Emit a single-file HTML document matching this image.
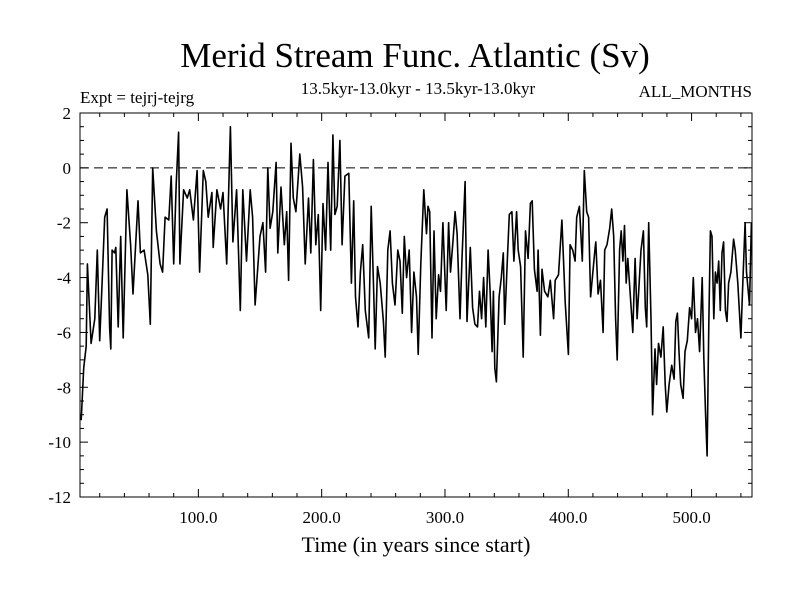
<!DOCTYPE html>
<html><head><meta charset="utf-8"><style>
body{margin:0;background:#fff;}
svg text{font-family:"Liberation Serif",serif;fill:#000;}
</style></head><body>
<svg id="chart" width="800" height="600">
<text x="415" y="67" font-size="35" text-anchor="middle">Merid Stream Func. Atlantic (Sv)</text>
<text x="80" y="103" font-size="17">Expt = tejrj-tejrg</text>
<text x="418" y="94" font-size="17" text-anchor="middle">13.5kyr-13.0kyr - 13.5kyr-13.0kyr</text>
<text x="752" y="97" font-size="17" text-anchor="end">ALL_MONTHS</text>
<text x="416" y="552" font-size="22" text-anchor="middle">Time (in years since start)</text>
<g id="axes"></g>
<path id="series" fill="none" stroke="#000" stroke-width="1.6" stroke-linejoin="round"/>
</svg>
<script>
const years=[5,7,9,10,13,16,18,20,22,24,26,28,29,30,32,33,35,37,39,42,45,47,51,53,56,59,61,63,66,69,71,73,76,78,80,82,84,85,88,91,93,96,99,101,104,106,108,111,112,115,118,120,123,126,128,131,134,136,139,142,144,146,150,
152.3,154.5,156.3,158.2,160.4,163,164.4,167,169.7,171.6,173.2,175.1,177,179.1,182.3,184.5,186.6,189.3,191.2,193.3,195.2,197.3,199.2,201.1,203.2,205.1,207.3,209.1,210.7,212.6,214.8,216.6,218.8,222,224.1,226,227.4,229.5,231.4,233.3,235.4,238.1,240.2,242.1,243.4,245.3,247.5,250.1,251.5,253.6,255.5,257.4,259.5,261.7,263.5,265.4,267,268.9,271,272.9,274.8,276.9,278.3,280.4,282.8,285,
286.2,287.6,289.5,291.1,292.9,294.8,296.4,298.3,301,302.9,304.5,306.3,308.2,309.8,312.2,313.8,316.3,317.9,320.5,322.4,324.3,326.4,328,329.7,331.3,333.1,335,336.6,338.2,339.3,340.4,341.7,343.9,345.7,347.3,348.4,350.6,352.2,354.3,355.9,358.1,359.4,361.3,363.4,365.3,367.4,369.3,370.7,372.5,374.7,375.5,377.4,378.7,380.8,383.5,385.4,388.1,389.4,392.1,394.8,397.5,400.1,401.5,403.6,405.5,406.8,409,411.4,413,414.9,416.5,418.1,421.6,
422.3,424.2,426.1,428.2,429.5,431.4,433.6,435.2,436.8,438.4,439.7,441.6,442.9,444.3,445.6,447,448.3,450.4,452.3,454.2,455.8,457.1,459,460.9,462.5,463.6,465.2,467.1,468.4,470.3,471.6,473.2,475.1,477,478.6,479.9,481.8,483.9,485.8,487.2,488.5,489.8,491.2,493.1,494.7,496.5,498.4,500,501.4,503.2,504.8,506.5,508.6,509.9,511.3,512.6,514,515.3,516.6,518,519.3,520.7,522,523.3,524.7,526,527.4,528.7,530,531.9,534.1,535.4,537.5,538.9,540,541.3,543.4,544.5,547,548.5];
const values=[-9.2,-7.3,-6.5,-3.5,-6.4,-5.5,-3.0,-6.3,-4.1,-1.8,-1.5,-5.8,-6.6,-3.0,-3.1,-2.9,-5.8,-2.5,-6.2,-0.8,-2.8,-4.6,-1.2,-3.1,-3.0,-3.9,-5.7,0,-2.3,-3.5,-3.8,-1.8,-1.9,-0.3,-3.5,-0.6,1.3,-3.5,-0.8,-1.1,-0.8,-1.9,-0.1,-3.8,-0.1,-0.5,-1.8,-0.9,-2.9,-0.8,-1.5,-0.9,-3.5,1.5,-2.7,-0.8,-5.2,-0.8,-3.4,-0.8,-1.8,-5.0,-2.5,
-2.0,-3.8,0,-2.2,-1.6,0.2,-3.1,-0.7,-2.8,-1.6,-4.1,0.9,-1.1,-1.6,0.5,-0.7,-3.5,-1.1,-3.1,0.3,-2.8,-1.7,-5.2,-1.3,-3.0,0.2,-3.0,1.2,-1.7,-1.4,1.0,-2.8,-0.3,-0.2,-4.2,-1.2,-4.7,-5.8,-3.8,-2.8,-5.2,-6.2,-1.4,-4.4,-6.6,-3.6,-4.2,-5.6,-6.9,-3.0,-2.3,-4.2,-5.0,-3.0,-3.4,-5.3,-2.5,-4.0,-3.0,-6.0,-3.8,-4.7,-6.8,-3.5,-0.8,-2.4,
-1.4,-1.6,-6.2,-2.3,-5.5,-3.9,-4.5,-2.0,-5.2,-2.0,-3.8,-2.8,-1.6,-2.4,-5.5,-3.3,-0.5,-5.6,-2.9,-5.1,-5.7,-5.8,-4.5,-5.5,-4.0,-5.8,-3.0,-4.5,-6.7,-4.5,-7.3,-7.8,-4.7,-4.0,-3.1,-5.7,-3.3,-1.7,-1.6,-3.4,-1.6,-3.0,-3.6,-6.9,-2.3,-3.3,-1.3,-1.2,-3.7,-4.5,-3.0,-6.1,-3.7,-4.5,-4.7,-4.1,-5.5,-4.1,-3.9,-1.9,-4.9,-6.8,-2.8,-3.0,-3.4,-1.8,-1.4,-3.4,-0.1,-1.6,-1.8,-4.7,-3.0,
-2.7,-4.6,-4.1,-6.0,-3.0,-2.8,-2.2,-1.5,-2.5,-5.5,-7.0,-3.0,-2.3,-3.4,-2.1,-4.2,-3.3,-4.7,-6.0,-3.3,-5.5,-4.5,-3.0,-2.3,-5.1,-5.8,-2.0,-5.5,-9.0,-6.6,-7.9,-6.4,-6.9,-5.8,-7.9,-8.9,-7.9,-7.2,-7.7,-5.6,-5.3,-6.7,-7.9,-8.4,-6.7,-6.3,-5.1,-5.5,-4.0,-6.0,-5.5,-6.7,-4.0,-6.9,-8.9,-10.5,-5.7,-2.3,-2.5,-5.5,-3.8,-4.2,-3.4,-5.2,-3.1,-2.7,-5.2,-5.6,-4.2,-3.8,-2.6,-3.0,-4.2,-5.3,-6.2,-4.5,-2.0,-3.8,-5.0,-2.0];
const yTickValues=[2,0,-2,-4,-6,-8,-10,-12];
const xTickValues=[100,200,300,400,500];
const xTickLabels=["100.0","200.0","300.0","400.0","500.0"];

const L=80,R=752,T=113,B=497,X0=4,X1=549,Y0=-12,Y1=2;
const sx=v=>L+(v-X0)/(X1-X0)*(R-L);
const sy=v=>B-(v-Y0)/(Y1-Y0)*(B-T);
const NS="http://www.w3.org/2000/svg";
const g=document.getElementById('axes');
function mk(tag,attrs){const e=document.createElementNS(NS,tag);for(const k in attrs)e.setAttribute(k,attrs[k]);g.appendChild(e);return e;}
let frame=mk('rect',{x:L,y:T,width:R-L,height:B-T,fill:'none',stroke:'#000','stroke-width':1});


let zl=mk('line',{x1:L,x2:R,y1:sy(0),y2:sy(0),stroke:'#000','stroke-width':1,'stroke-dasharray':'9,5'});


for(let v=Y0;v<=Y1+1e-9;v+=0.5){const major=Math.abs(v/2-Math.round(v/2))<1e-9;const len=major?8:4;const y=sy(v);
 let t1=mk('line',{x1:L,x2:L+len,y1:y,y2:y,stroke:'#000'});
 
 
 let t2=mk('line',{x1:R-len,x2:R,y1:y,y2:y,stroke:'#000'});
 
 }
yTickValues.forEach(v=>{let t=mk('text',{x:71,y:sy(v)+6,'font-size':17,'text-anchor':'end'});t.textContent=String(v);
 
 });
for(let v=20;v<=X1;v+=20){const major=v%100===0;const len=major?8:4;const x=sx(v);
 let t1=mk('line',{x1:x,x2:x,y1:B,y2:B-len,stroke:'#000'});
 
 
 let t2=mk('line',{x1:x,x2:x,y1:T,y2:T+len,stroke:'#000'});
 
 }
xTickValues.forEach((v,i)=>{let t=mk('text',{x:sx(v),y:523,'font-size':17,'text-anchor':'middle'});t.textContent=xTickLabels[i];
 
 });
document.getElementById('series').setAttribute('d',years.map((yr,i)=>(i?'L':'M')+sx(yr).toFixed(1)+','+sy(values[i]).toFixed(1)).join(''));
</script>
</body></html>
